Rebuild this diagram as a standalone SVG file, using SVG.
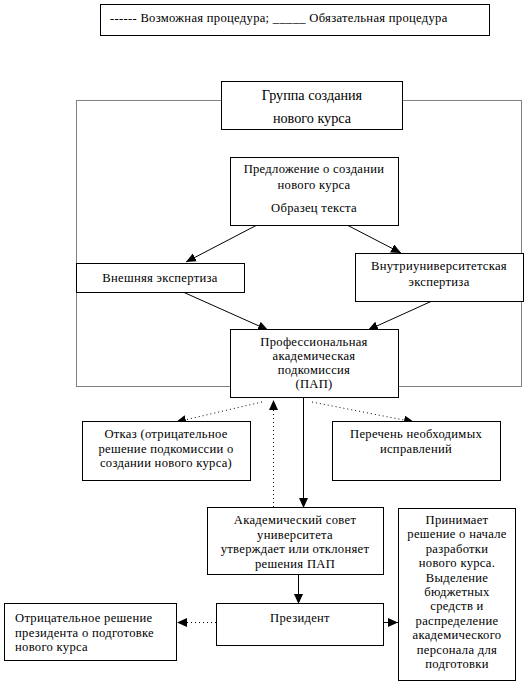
<svg xmlns="http://www.w3.org/2000/svg" width="530" height="687" viewBox="0 0 530 687">
<style>
.box{fill:#fff;stroke:#000;stroke-width:1}
text{font-family:"Liberation Serif","Times New Roman",serif;font-size:12.6px;fill:#000;letter-spacing:0.3px}
.c{text-anchor:middle}
.big{font-size:14.2px;letter-spacing:0}
.ln{stroke:#000;stroke-width:1;fill:none}
.dot{stroke:#000;stroke-width:1;fill:none;stroke-dasharray:1,3}
.frame{stroke:#000;stroke-width:1;fill:none;stroke-dasharray:1,1}
</style>
<defs>
<marker id="ah" markerUnits="userSpaceOnUse" markerWidth="11" markerHeight="10" refX="10" refY="4.5" orient="auto">
<path d="M0,0 L10,4.5 L0,9 z" fill="#000"/>
</marker>
</defs>
<rect width="530" height="687" fill="#fff"/>
<g id="legend">
<rect class="box" x="100.5" y="4.5" width="389" height="31"/>
<text x="110" y="22">------ Возможная процедура; _____ Обязательная процедура</text>
</g>
<rect id="frame" class="frame" x="76.5" y="100.5" width="445" height="286"/>
<g id="connectors">
<line class="ln" x1="257" y1="225" x2="186" y2="262" marker-end="url(#ah)"/>
<line class="ln" x1="347" y1="225" x2="401" y2="253" marker-end="url(#ah)"/>
<line class="ln" x1="183" y1="292" x2="268" y2="330" marker-end="url(#ah)"/>
<line class="ln" x1="432" y1="301" x2="368" y2="330" marker-end="url(#ah)"/>
<line class="dot" x1="262" y1="402" x2="176" y2="422" marker-end="url(#ah)"/>
<line class="dot" x1="312" y1="402" x2="414" y2="422" marker-end="url(#ah)"/>
<line class="dot" x1="273.5" y1="507" x2="273.5" y2="400" marker-end="url(#ah)"/>
<line class="ln" x1="303.5" y1="398" x2="303.5" y2="508" marker-end="url(#ah)"/>
<line class="ln" x1="298.5" y1="574" x2="298.5" y2="604" marker-end="url(#ah)"/>
<line class="dot" x1="216" y1="622.5" x2="177" y2="622.5" marker-end="url(#ah)"/>
<line class="ln" x1="384" y1="622.5" x2="398" y2="622.5" marker-end="url(#ah)"/>
</g>
<g id="group">
<rect class="box" x="221.5" y="81.5" width="181" height="48"/>
<text class="c big" x="312" y="100">Группа создания</text>
<text class="c big" x="312" y="123">нового курса</text>
</g>
<g id="proposal">
<rect class="box" x="230.5" y="157.5" width="168" height="68"/>
<text class="c" x="314" y="173">Предложение о создании</text>
<text class="c" x="314" y="189">нового курса</text>
<text class="c" x="314" y="212">Образец текста</text>
</g>
<g id="external">
<rect class="box" x="76.5" y="263.5" width="168" height="29"/>
<text class="c" x="160" y="282">Внешняя экспертиза</text>
</g>
<g id="internal">
<rect class="box" x="355.5" y="253.5" width="168" height="48"/>
<text class="c" x="439" y="270">Внутриуниверситетская</text>
<text class="c" x="439" y="286">экспертиза</text>
</g>
<g id="pap">
<rect class="box" x="230.5" y="329.5" width="168" height="68"/>
<text class="c" x="314" y="346">Профессиональная</text>
<text class="c" x="314" y="360">академическая</text>
<text class="c" x="314" y="374">подкомиссия</text>
<text class="c" x="314" y="388">(ПАП)</text>
</g>
<g id="refusal">
<rect class="box" x="82.5" y="421.5" width="168" height="59"/>
<text class="c" x="166" y="438">Отказ (отрицательное</text>
<text class="c" x="166" y="452.5">решение подкомиссии о</text>
<text class="c" x="166" y="467">создании нового курса)</text>
</g>
<g id="corrections">
<rect class="box" x="332.5" y="421.5" width="168" height="59"/>
<text class="c" x="416" y="438">Перечень необходимых</text>
<text class="c" x="416" y="452.5">исправлений</text>
</g>
<g id="council">
<rect class="box" x="207.5" y="507.5" width="176" height="67"/>
<text class="c" x="295" y="524">Академический совет</text>
<text class="c" x="295" y="538.5">университета</text>
<text class="c" x="295" y="553">утверждает или отклоняет</text>
<text class="c" x="295" y="567.5">решения ПАП</text>
</g>
<g id="president">
<rect class="box" x="216.5" y="603.5" width="167" height="42"/>
<text class="c" x="300" y="622">Президент</text>
</g>
<g id="negative">
<rect class="box" x="4.5" y="603.5" width="172" height="57"/>
<text x="15" y="622">Отрицательное решение</text>
<text x="15" y="636.5">президента о подготовке</text>
<text x="15" y="651">нового курса</text>
</g>
<g id="decision">
<rect class="box" x="398.5" y="508.5" width="117" height="172"/>
<text class="c" x="457" y="524">Принимает</text>
<text class="c" x="457" y="538.4">решение о начале</text>
<text class="c" x="457" y="552.8">разработки</text>
<text class="c" x="457" y="567.2">нового курса.</text>
<text class="c" x="457" y="581.6">Выделение</text>
<text class="c" x="457" y="596">бюджетных</text>
<text class="c" x="457" y="610.4">средств и</text>
<text class="c" x="457" y="624.8">распределение</text>
<text class="c" x="457" y="639.2">академического</text>
<text class="c" x="457" y="653.6">персонала для</text>
<text class="c" x="457" y="668">подготовки</text>
</g>
</svg>
